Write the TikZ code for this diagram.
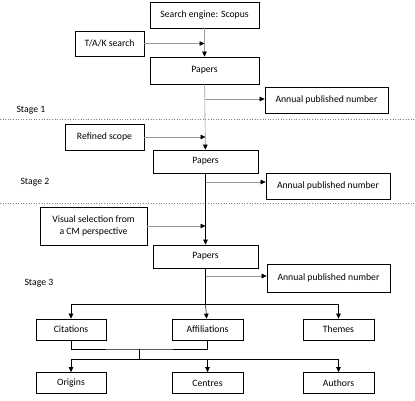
\documentclass[tikz,border=0pt]{standalone}
\usepackage{fontspec}
\setmainfont{Carlito}
\usetikzlibrary{positioning, arrows.meta}

\tikzset{
  box/.style={rectangle, draw, line width=0.7pt, fill=white, font=\fontsize{9.7}{11.5}\selectfont, align=center, inner sep=2pt},
  flow/.style={-{Triangle[length=5pt,width=4.5pt,black]}, line width=0.6pt},
  feed/.style={flow, draw=black!40},
  stageline/.style={draw=black!50, dotted, line width=0.6pt},
  stagelabel/.style={font=\fontsize{9.7}{11.5}\selectfont, anchor=west}
}

\begin{document}
\begin{tikzpicture}[x=1pt, y=-1pt]
        \useasboundingbox (0,0) rectangle (415,400);
        % Stage 1
        \node[box, minimum width=109pt, minimum height=26pt] (search) at (204.5,15) {Search engine: Scopus};
        \node[box, minimum width=69pt, minimum height=25pt] (tak) at (109.5,43.5) {T/A/K search};
        \node[box, minimum width=109pt, minimum height=27pt] (papersA) at (204.5,70.5) {Papers};
        \node[box, minimum width=123pt, minimum height=26pt] (annualA) at (326.5,100) {Annual published number};
        \node[stagelabel] (stageA) at (13,110) {Stage 1};
        % Stage 2
        \node[box, minimum width=79pt, minimum height=26pt] (refined) at (104.5,137) {Refined scope};
        \node[box, minimum width=105pt, minimum height=23pt] (papersB) at (205.5,161.5) {Papers};
        \node[box, minimum width=124pt, minimum height=26pt] (annualB) at (328,186) {Annual published number};
        \node[stagelabel] (stageB) at (17,182) {Stage 2};
        % Stage 3
        \node[box, minimum width=107pt, minimum height=38pt] (visual) at (93.5,226) {Visual selection from\\a CM perspective};
        \node[box, minimum width=105pt, minimum height=23pt] (papersC) at (205.5,256.5) {Papers};
        \node[box, minimum width=123pt, minimum height=28pt] (annualC) at (328.5,278) {Annual published number};
        \node[stagelabel] (stageC) at (21,283) {Stage 3};
        % Outputs
        \node[box, minimum width=70pt, minimum height=21pt] (citations) at (71,329.5) {Citations};
        \node[box, minimum width=71pt, minimum height=21pt] (affiliations) at (207.5,329.5) {Affiliations};
        \node[box, minimum width=71pt, minimum height=21pt] (themes) at (338.5,329.5) {Themes};
        \node[box, minimum width=70pt, minimum height=21pt] (origins) at (71,383) {Origins};
        \node[box, minimum width=71pt, minimum height=21pt] (centres) at (207.5,383) {Centres};
        \node[box, minimum width=71pt, minimum height=21pt] (authors) at (338.5,383) {Authors};
        % Helper points
        \coordinate (tapA) at (204.5,99);
        \coordinate (tapB) at (205.5,182);
        \coordinate (tapC) at (205.5,276);
        \coordinate (split) at (205.5,304);
        \coordinate (join) at (139,349);
        \coordinate (fan) at (139,359);
        % Stage dividers
        \draw[stageline] (0,119) -- (415,119);
        \draw[stageline] (0,203) -- (415,203);
        % Main flow
        \draw[feed] (search) -- (papersA);
        \draw[feed] (tak.east) -- (tak.east -| search.south);
        \draw[feed] (papersA) -- (papersB);
        \draw[feed] (refined.east) -- (refined.east -| papersB.north);
        \draw[flow] (papersB) -- (papersC);
        \draw[feed] (visual.east) -- (visual.east -| papersC.north);
        % Annual numbers
        \draw[feed] (tapA) -- (annualA.west |- tapA);
        \draw[feed] (tapB) -- (annualB.west |- tapB);
        \draw[feed] (tapC) -- (annualC.west |- tapC);
        % Analysis
        \draw[line width=0.6pt] (papersC) -- (split);
        \draw[flow] (split) -| (citations);
        \draw[flow] (split) -- (affiliations);
        \draw[flow] (split) -| (themes);
        \draw[line width=0.6pt] (citations.south) |- (join) -| (affiliations.south);
        \draw[line width=0.6pt] (join) -- (fan);
        \draw[flow] (fan) -| (origins);
        \draw[flow] (fan) -| (centres);
        \draw[flow] (fan) -| (authors);
    \end{tikzpicture}
\end{document}
